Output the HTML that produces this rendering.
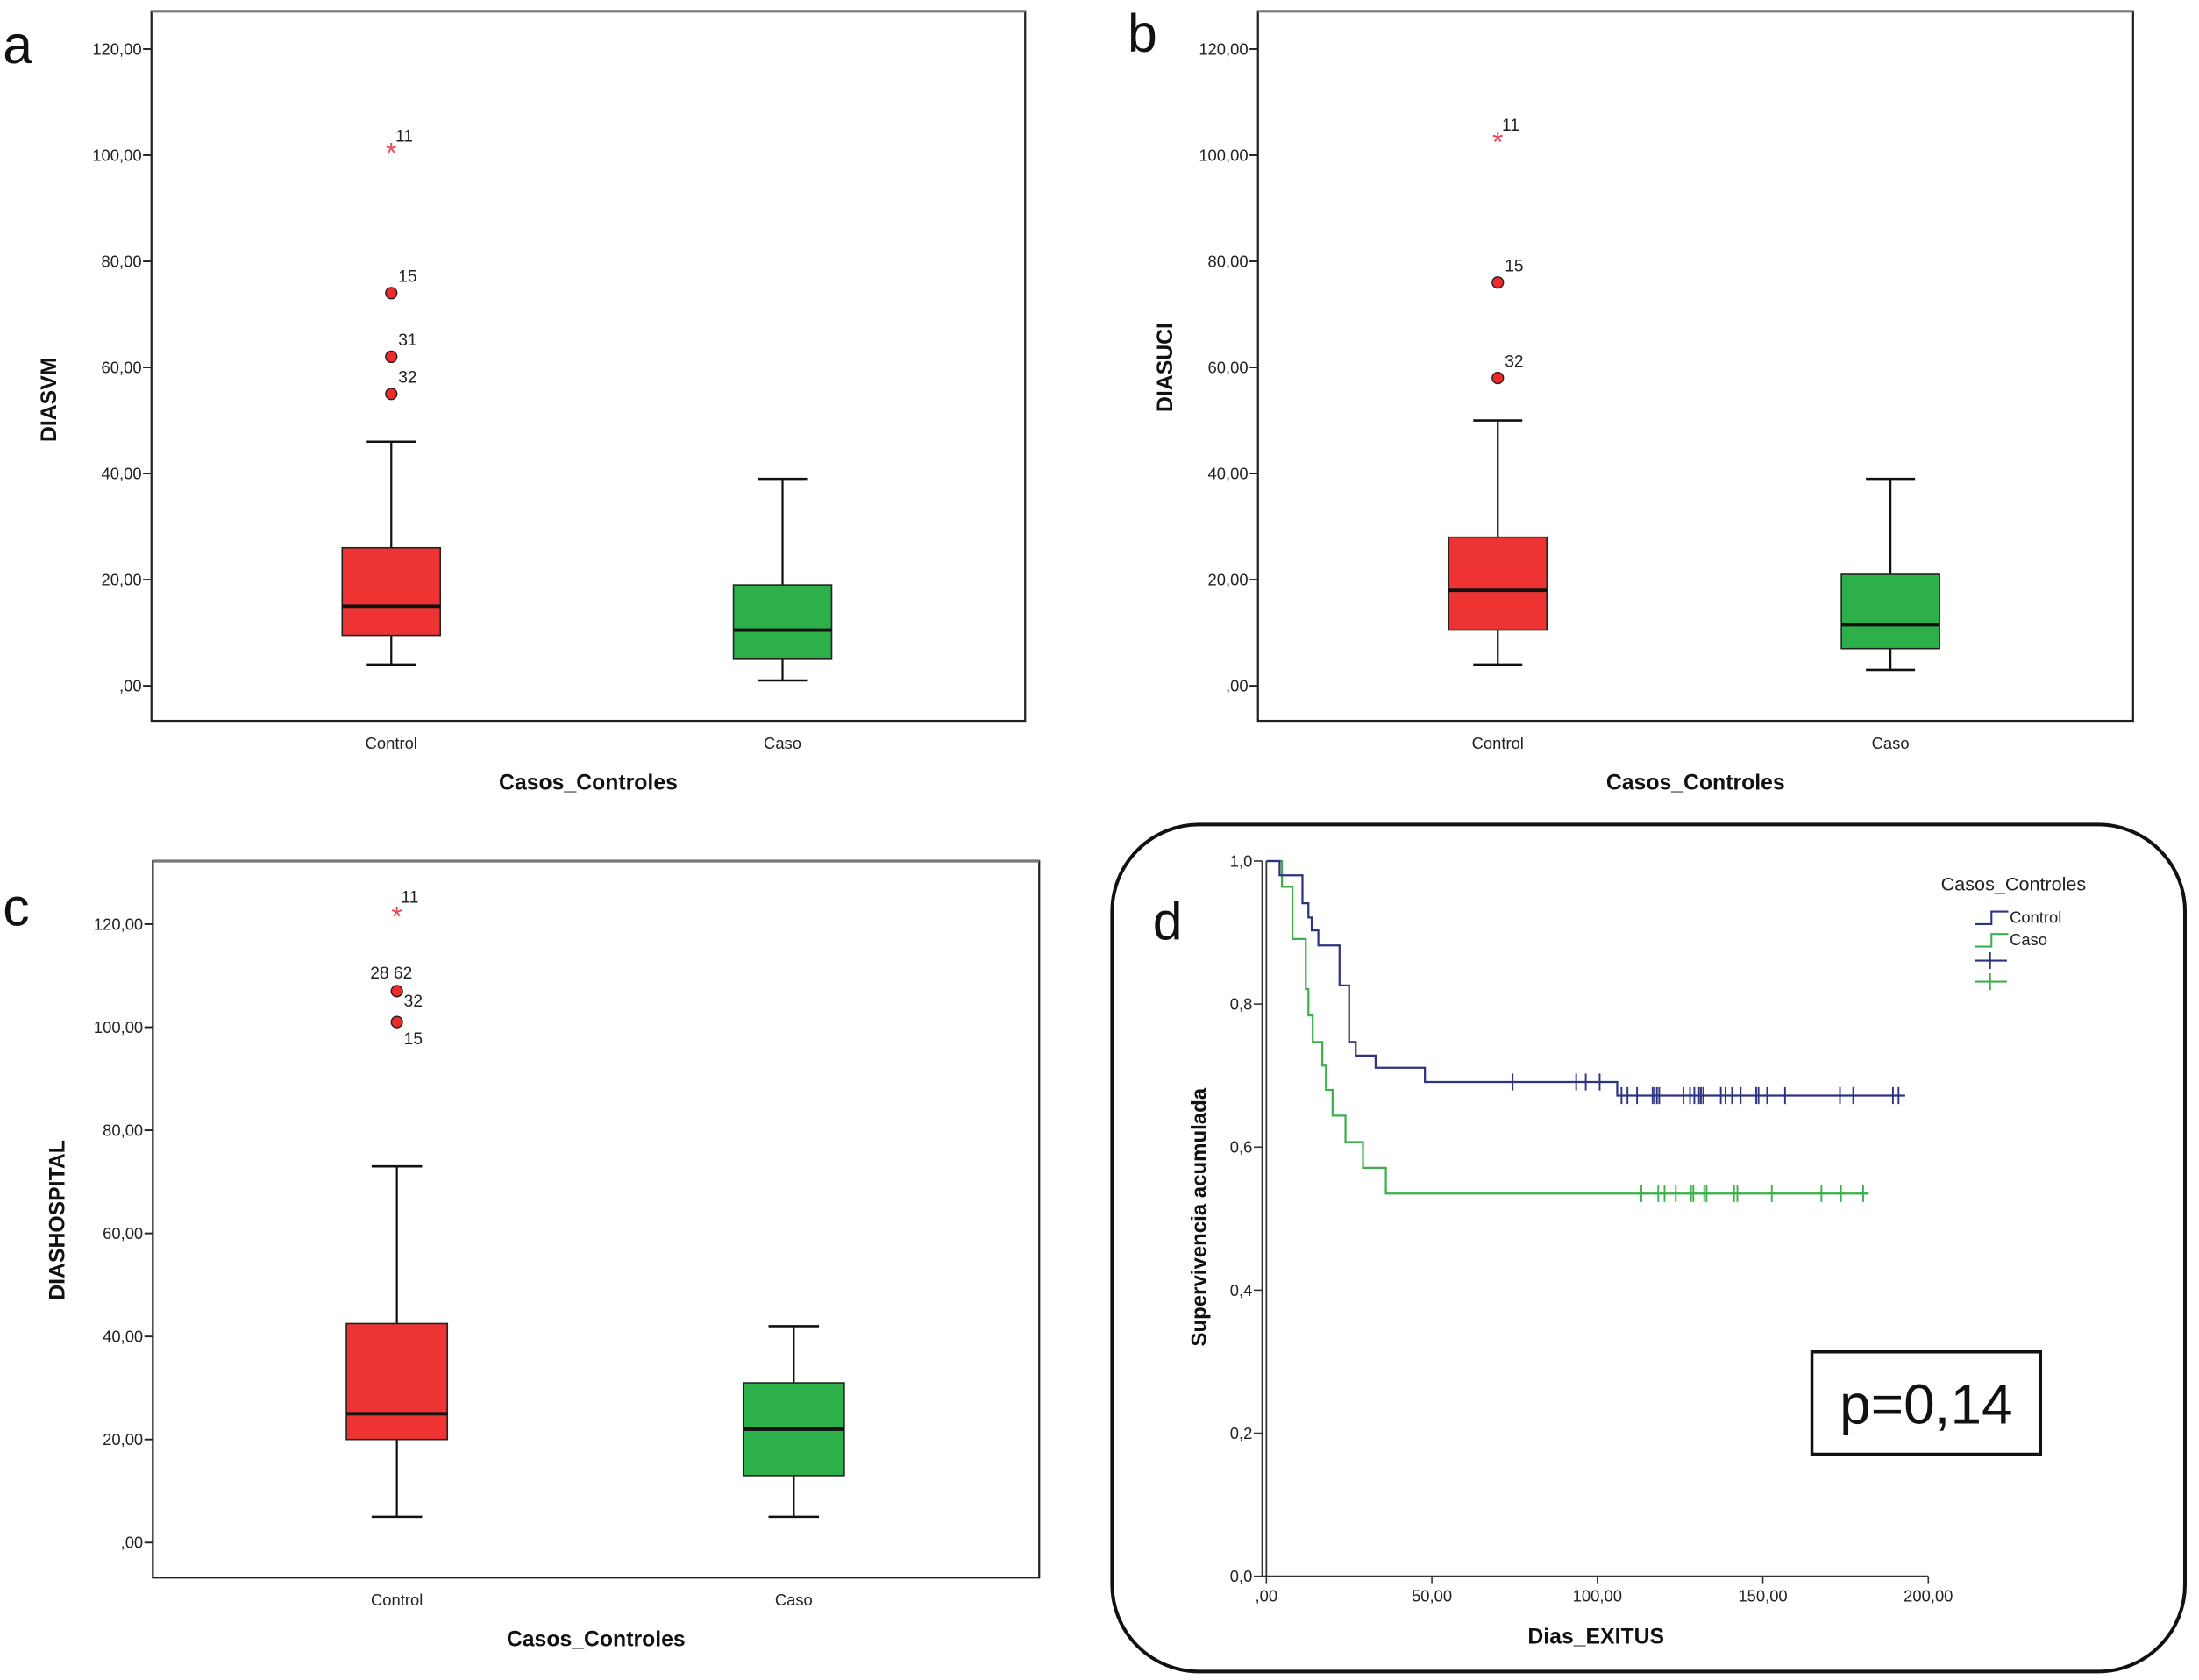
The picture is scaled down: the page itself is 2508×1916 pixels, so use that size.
<!DOCTYPE html>
<html><head><meta charset="utf-8"><style>
html,body{margin:0;padding:0;background:#fff}
svg{display:block}
text{font-family:"Liberation Sans",Arial,sans-serif}
</style></head><body>
<svg id="fig" width="2508" height="1916" viewBox="0 0 1568 1198" preserveAspectRatio="none" xmlns="http://www.w3.org/2000/svg">
<rect x="0" y="0" width="1568" height="1198" fill="#fff"/>
</svg>
<script>
// ---------- data ----------
const categories = ["Control", "Caso"];
const yTicks = [0, 20, 40, 60, 80, 100, 120];
const yTickLabels = [",00", "20,00", "40,00", "60,00", "80,00", "100,00", "120,00"];
// panel a: DIASVM  [low whisker, q1, median, q3, high whisker]
const aControl = [4, 9.5, 15, 26, 46];
const aCaso = [1, 5, 10.5, 19, 39];
const aOutVals = [101, 74, 62, 55];
const aOutIds = ["11", "15", "31", "32"];
const aOutStar = [true, false, false, false];
// panel b: DIASUCI
const bControl = [4, 10.5, 18, 28, 50];
const bCaso = [3, 7, 11.5, 21, 39];
const bOutVals = [103, 76, 58];
const bOutIds = ["11", "15", "32"];
const bOutStar = [true, false, false];
// panel c: DIASHOSPITAL
const cControl = [5, 20, 25, 42.5, 73];
const cCaso = [5, 13, 22, 31, 42];
const cOutVals = [122, 107, 101];
const cOutIds = ["11", "28  62", "32"];
const cOutStar = [true, false, false];
// panel d: Kaplan-Meier
const kmXTicks = [0, 50, 100, 150, 200];
const kmXTickLabels = [",00", "50,00", "100,00", "150,00", "200,00"];
const kmYTicks = [0, 0.2, 0.4, 0.6, 0.8, 1.0];
const kmYTickLabels = ["0,0", "0,2", "0,4", "0,6", "0,8", "1,0"];
const ctrlTimes = [4, 10.9, 12.7, 13.7, 15.7, 22.1, 25, 27, 33, 47.9, 106];
const ctrlSurv = [0.98, 0.941, 0.921, 0.903, 0.882, 0.826, 0.747, 0.728, 0.711, 0.691, 0.672];
const ctrlEnd = 193;
const ctrlCensorT = [74.4, 93.6, 96.5, 100.7, 107.3, 109.1, 112, 116.7, 117.3, 118, 118.7, 126, 128, 129.3, 130.7, 131.3, 132, 137.3, 138.7, 140.7, 143.3, 148, 148.7, 151.3, 156.7, 173.3, 177.3, 189.3, 191];
const casoTimes = [4.7, 7.9, 11.9, 12.7, 14, 16.9, 18, 20, 23.9, 29.2, 36.1];
const casoSurv = [0.964, 0.891, 0.821, 0.784, 0.747, 0.714, 0.680, 0.644, 0.607, 0.571, 0.535];
const casoEnd = 182;
const casoCensorT = [113.3, 118.4, 120.3, 123.7, 128.3, 129, 132.3, 133, 141.3, 142.3, 152.7, 167.7, 173.6, 180.3];

// ---------- helpers ----------
const NS = "http://www.w3.org/2000/svg";
const svg = document.getElementById("fig");
function mk(tag, attrs, parent, txt) {
  const e = document.createElementNS(NS, tag);
  for (const k in attrs) e.setAttribute(k, attrs[k]);
  if (txt !== undefined) e.textContent = txt;
  (parent || svg).appendChild(e);
  return e;
}
function survAt(times, surv, t) {
  let s = 1;
  for (let i = 0; i < times.length; i++) if (times[i] <= t) s = surv[i];
  return s;
}

function boxPanel(p) {
  const g = mk("g", {});
  
  
  const y = v => p.y0 - (v / 120) * (p.y0 - p.y120);
  const frame = mk("rect", {x: p.fx, y: p.fy, width: p.fw, height: p.fh, fill: "none", stroke: "#222", "stroke-width": 1.4}, g);
  
  
  mk("line", {x1: p.fx, y1: p.fy, x2: p.fx + p.fw, y2: p.fy, stroke: "#777", "stroke-width": 2}, g);
  yTicks.forEach((v, i) => {
    const t = mk("line", {x1: p.fx - 6, x2: p.fx, y1: y(v), y2: y(v), stroke: "#222", "stroke-width": 1.2}, g);
    
    
    const l = mk("text", {x: p.fx - 7, y: y(v) + 4, "font-size": 11.5, "text-anchor": "end", fill: "#222"}, g, yTickLabels[i]);
    
    
  });
  const boxes = [[p.ctrl, p.cx[0], "#ee3333"], [p.caso, p.cx[1], "#2db04a"]];
  boxes.forEach((b, bi) => {
    const [s, cx, col] = b;
    const hw = p.bw / 2;
    const bg = mk("g", {}, g);
    
    
    mk("line", {x1: cx, x2: cx, y1: y(s[0]), y2: y(s[1]), stroke: "#111", "stroke-width": 1.4}, bg);
    mk("line", {x1: cx, x2: cx, y1: y(s[3]), y2: y(s[4]), stroke: "#111", "stroke-width": 1.4}, bg);
    mk("line", {x1: cx - hw / 2, x2: cx + hw / 2, y1: y(s[0]), y2: y(s[0]), stroke: "#111", "stroke-width": 1.6}, bg);
    mk("line", {x1: cx - hw / 2, x2: cx + hw / 2, y1: y(s[4]), y2: y(s[4]), stroke: "#111", "stroke-width": 1.6}, bg);
    mk("rect", {x: cx - hw, y: y(s[3]), width: p.bw, height: y(s[1]) - y(s[3]), fill: col, stroke: "#222", "stroke-width": 1}, bg);
    mk("line", {x1: cx - hw, x2: cx + hw, y1: y(s[2]), y2: y(s[2]), stroke: "#111", "stroke-width": 2.4}, bg);
    const cl = mk("text", {x: cx, y: p.fy + p.fh + 20, "font-size": 11.5, "text-anchor": "middle", fill: "#222"}, g, categories[bi]);
    
    
  });
  p.outVals.forEach((v, i) => {
    const cx = p.cx[0];
    let m;
    if (p.outStar[i]) {
      m = mk("text", {x: cx, y: y(v) + 9, "font-size": 20, "text-anchor": "middle", fill: "#e8485a"}, g, "*");
    } else {
      m = mk("circle", {cx: cx, cy: y(v), r: 4, fill: "#ee2a2a", stroke: "#222", "stroke-width": 0.9}, g);
    }
    
    
    const lab = mk("text", {x: cx + p.labDx[i], y: y(v) + p.labDy[i], "font-size": 12, fill: "#222"}, g, p.outIds[i]);
    
    
  });
  const xt = mk("text", {x: p.fx + p.fw / 2, y: p.fy + p.fh + 49, "font-size": 15.5, "font-weight": "bold", "text-anchor": "middle", fill: "#111"}, g, "Casos_Controles");
  
  
  const yt = mk("text", {x: 0, y: 0, "font-size": 15.5, "font-weight": "bold", "text-anchor": "middle", fill: "#111", transform: "translate(" + p.ytx + "," + p.yty + ") rotate(-90)"}, g, p.ytitle);
  
  
  const letter = mk("text", {x: p.lx, y: p.ly, "font-size": 38, fill: "#111"}, g, p.letter);
  
  
}

boxPanel({name: "panel-a-diasvm", fx: 108, fy: 8, fw: 623, fh: 506, y0: 489, y120: 35, cx: [279, 558], bw: 70,
  ctrl: aControl, caso: aCaso, outVals: aOutVals, outIds: aOutIds, outStar: aOutStar,
  labDx: [3, 5, 5, 5], labDy: [-6, -8, -8, -8], ytitle: "DIASVM", ytx: 40, yty: 285, letter: "a", lx: 2, ly: 45});
boxPanel({name: "panel-b-diasuci", fx: 897, fy: 8, fw: 624, fh: 506, y0: 489, y120: 35, cx: [1068, 1348], bw: 70,
  ctrl: bControl, caso: bCaso, outVals: bOutVals, outIds: bOutIds, outStar: bOutStar,
  labDx: [3, 5, 5], labDy: [-6, -8, -8], ytitle: "DIASUCI", ytx: 836, yty: 262, letter: "b", lx: 804, ly: 37});
boxPanel({name: "panel-c-diashospital", fx: 109, fy: 614, fw: 632, fh: 511, y0: 1100, y120: 659, cx: [283, 566], bw: 72,
  ctrl: cControl, caso: cCaso, outVals: cOutVals, outIds: cOutIds, outStar: cOutStar,
  labDx: [3, -19, 5], labDy: [-8, -9, -11], ytitle: "DIASHOSPITAL", ytx: 46, yty: 870, letter: "c", lx: 2, ly: 660});
// extra "15" label below 101 in panel c
(function(){
  const yv = 1100 - (101 / 120) * (1100 - 659) + 15;
  const l = mk("text", {x: 288, y: yv + 1, "font-size": 12, fill: "#222"}, null, "15");
  
  
})();

// ---------- panel d ----------
(function(){
  const g = mk("g", {});
  
  
  const border = mk("rect", {x: 793, y: 588, width: 765, height: 604, rx: 62, ry: 62, fill: "none", stroke: "#111", "stroke-width": 2.5}, g);
  
  
  const X0 = 903, X200 = 1375, Y0 = 1124, Y1 = 614;
  const x = t => X0 + (t / 200) * (X200 - X0);
  const y = s => Y0 - s * (Y0 - Y1);
  const ax = mk("path", {d: "M" + (X0 - 3) + "," + Y1 + "V" + Y0 + "H" + X200 + "M" + (X0) + "," + Y1 + "V" + Y0, fill: "none", stroke: "#333", "stroke-width": 1.1}, g);
  
  
  kmYTicks.forEach((v, i) => {
    mk("line", {x1: X0 - 9, x2: X0 - 3, y1: y(v), y2: y(v), stroke: "#333", "stroke-width": 1}, g);
    const l = mk("text", {x: X0 - 10, y: y(v) + 4, "font-size": 11.5, "text-anchor": "end", fill: "#222"}, g, kmYTickLabels[i]);
    
    
  });
  kmXTicks.forEach((v, i) => {
    mk("line", {x1: x(v), x2: x(v), y1: Y0, y2: Y0 + 5, stroke: "#333", "stroke-width": 1}, g);
    const l = mk("text", {x: x(v), y: Y0 + 18, "font-size": 11.5, "text-anchor": "middle", fill: "#222"}, g, kmXTickLabels[i]);
    
    
  });
  function curve(times, surv, end, censor, col, name) {
    let d = "M" + x(0) + "," + y(1);
    times.forEach((t, i) => { d += "H" + x(t) + "V" + y(surv[i]); });
    d += "H" + x(end);
    const cg = mk("g", {}, g);
    
    
    mk("path", {d: d, fill: "none", stroke: col, "stroke-width": 1.4}, cg);
    censor.forEach(t => {
      const sv = survAt(times, surv, t);
      const c = mk("path", {d: "M" + x(t) + "," + (y(sv) - 6) + "V" + (y(sv) + 6) + "M" + (x(t) - 3) + "," + y(sv) + "H" + (x(t) + 3), stroke: col, "stroke-width": 1.2, fill: "none"}, cg);
      
      
    });
  }
  curve(casoTimes, casoSurv, casoEnd, casoCensorT, "#3cb04a", "caso-curve");
  curve(ctrlTimes, ctrlSurv, ctrlEnd, ctrlCensorT, "#2e3282", "control-curve");
  // legend
  const lg = mk("g", {}, g);
  
  
  mk("text", {x: 1384, y: 635, "font-size": 13.5, fill: "#222"}, lg, "Casos_Controles");
  const ent = [["Control", "#2e3282", 654], ["Caso", "#3cb04a", 670]];
  ent.forEach(e => {
    const le = mk("g", {}, lg);
    
    
    mk("path", {d: "M1408," + (e[2] + 5) + "h12v-9h12", fill: "none", stroke: e[1], "stroke-width": 1.3}, le);
    mk("text", {x: 1433, y: e[2] + 4, "font-size": 11.5, fill: "#222"}, le, e[0]);
  });
  [["#2e3282", 685], ["#3cb04a", 700]].forEach(e => {
    mk("path", {d: "M1408," + e[1] + "h23M1419," + (e[1] - 6) + "v12", stroke: e[0], "stroke-width": 1.3, fill: "none"}, lg);
  });
  const pb = mk("g", {}, g);
  
  
  mk("rect", {x: 1292, y: 964, width: 163, height: 73, fill: "#fff", stroke: "#111", "stroke-width": 2.2}, pb);
  mk("text", {x: 1373.5, y: 1015, "font-size": 40, "text-anchor": "middle", fill: "#111"}, pb, "p=0,14");
  const xt = mk("text", {x: 1138, y: 1172, "font-size": 15.5, "font-weight": "bold", "text-anchor": "middle", fill: "#111"}, g, "Dias_EXITUS");
  
  
  const yt = mk("text", {x: 0, y: 0, "font-size": 15, "font-weight": "bold", "text-anchor": "middle", fill: "#111", transform: "translate(860,868) rotate(-90)"}, g, "Supervivencia acumulada");
  
  
  const letter = mk("text", {x: 822, y: 670, "font-size": 38, fill: "#111"}, g, "d");
  
  
})();
</script>
</body></html>
